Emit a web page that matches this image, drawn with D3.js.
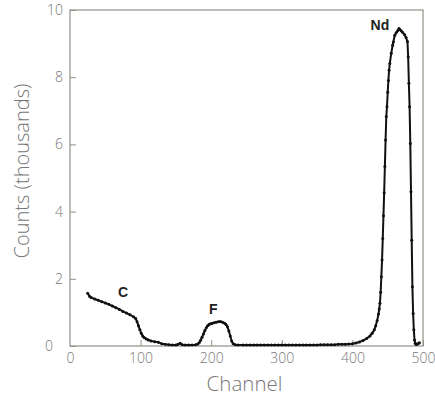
<!DOCTYPE html>
<html lang="en">
<head>
<meta charset="UTF-8">
<title>Channel spectrum</title>
<style>
  body { margin: 0; background: #fff; }
  .tick-label { font-family: "Open Sans", sans-serif; font-weight: 300; fill: #777; font-size: 14px; }
  .axis-title { font-family: "Open Sans", sans-serif; font-weight: 300; fill: #777; font-size: 20.5px; }
  .peak-label { font-family: "Liberation Sans", Arial, sans-serif; font-weight: bold; fill: #222; font-size: 14px; }
</style>
<script src="https://d3js.org/d3.v7.min.js"></script>
</head>
<body>
<div id="chart"></div>
<script>
// spectrum: channel -> counts (thousands)
var channels = [25, 28, 30, 35, 40, 45, 50, 55, 60, 65, 70, 75, 80, 85, 90, 93, 95, 97, 99, 101, 103, 105, 108, 111, 115, 120, 125, 130, 135, 140, 145, 150, 153, 156, 159, 163, 168, 173, 178, 181, 183, 185, 187, 189, 191, 193, 195, 197, 199, 201, 204, 207, 210, 213, 216, 219, 221, 223, 225, 227, 229, 231, 234, 238, 245, 250, 255, 260, 265, 270, 275, 280, 285, 290, 295, 300, 305, 310, 315, 320, 325, 330, 335, 340, 345, 350, 355, 360, 365, 370, 375, 380, 385, 390, 395, 400, 405, 410, 415, 420, 425, 428, 431, 433, 435, 437, 438, 439, 440, 441, 442, 443, 444, 445, 446, 447, 448, 449, 450, 451, 452, 453, 455, 457, 458, 460, 462, 464, 466, 467, 469, 471, 474, 476, 478, 479, 480, 481, 482, 483, 484, 485, 486, 487, 488, 489, 490, 491, 493, 495];
var counts = [1.57, 1.47, 1.44, 1.40, 1.36, 1.32, 1.28, 1.24, 1.19, 1.14, 1.09, 1.03, 0.98, 0.93, 0.87, 0.82, 0.72, 0.60, 0.48, 0.38, 0.30, 0.25, 0.21, 0.18, 0.15, 0.13, 0.11, 0.07, 0.05, 0.04, 0.03, 0.03, 0.05, 0.08, 0.04, 0.03, 0.03, 0.03, 0.04, 0.06, 0.10, 0.17, 0.26, 0.36, 0.46, 0.54, 0.60, 0.64, 0.66, 0.67, 0.69, 0.71, 0.72, 0.73, 0.71, 0.68, 0.64, 0.57, 0.45, 0.30, 0.15, 0.07, 0.04, 0.03, 0.03, 0.03, 0.03, 0.03, 0.03, 0.03, 0.03, 0.03, 0.03, 0.03, 0.03, 0.03, 0.03, 0.03, 0.03, 0.03, 0.03, 0.03, 0.03, 0.03, 0.03, 0.03, 0.04, 0.04, 0.04, 0.04, 0.04, 0.05, 0.05, 0.05, 0.06, 0.07, 0.09, 0.12, 0.16, 0.22, 0.30, 0.38, 0.48, 0.60, 0.75, 0.95, 1.10, 1.27, 1.60, 2.06, 2.56, 3.20, 3.88, 4.56, 5.34, 6.13, 6.83, 7.12, 7.55, 7.90, 8.21, 8.41, 8.71, 8.95, 9.05, 9.25, 9.32, 9.38, 9.45, 9.42, 9.38, 9.34, 9.26, 9.18, 9.06, 8.60, 7.82, 7.12, 6.03, 4.59, 3.15, 1.76, 0.97, 0.48, 0.18, 0.08, 0.05, 0.05, 0.07, 0.10];

var xTicks = [0, 100, 200, 300, 400, 500];
var yTicks = [0, 2, 4, 6, 8, 10];

var peakNames = ["C", "F", "Nd"];
var peakChannels = [75, 203, 439];
var peakCounts = [1.45, 0.95, 9.4];

var width = 435, height = 398;
var margin = { top: 10, right: 12, bottom: 52, left: 70 };

var svg = d3.select("#chart").append("svg")
  .attr("width", width)
  .attr("height", height);

var x = d3.scaleLinear().domain([0, 500]).range([margin.left, width - margin.right]);
var y = d3.scaleLinear().domain([0, 10]).range([height - margin.bottom, margin.top]);

var frameColor = "#8b9587";

// frame
svg.append("rect")
  .attr("x", x(0))
  .attr("y", y(10))
  .attr("width", x(500) - x(0))
  .attr("height", y(0) - y(10))
  .attr("fill", "none")
  .attr("stroke", frameColor)
  .attr("stroke-width", 1.2);

// axes with inward ticks
var xAxis = svg.append("g")
  .attr("transform", "translate(0," + y(0) + ")")
  .call(d3.axisBottom(x).tickValues(xTicks).tickSizeInner(-6).tickSizeOuter(0).tickPadding(7));
xAxis.select(".domain").remove();
xAxis.selectAll("line").attr("stroke", frameColor);
xAxis.selectAll("text").attr("class", "tick-label").attr("font-size", null).attr("font-family", null).attr("fill", null);

var yAxis = svg.append("g")
  .attr("transform", "translate(" + x(0) + ",0)")
  .call(d3.axisLeft(y).tickValues(yTicks).tickSizeInner(-6).tickSizeOuter(0).tickPadding(7));
yAxis.select(".domain").remove();
yAxis.selectAll("line").attr("stroke", frameColor);
yAxis.selectAll("text").attr("class", "tick-label").attr("font-size", null).attr("font-family", null).attr("fill", null);
yAxis.selectAll(".tick").filter(function (d) { return d === 0; }).select("text").attr("dx", "-10");
xAxis.selectAll(".tick").filter(function (d) { return d === 0; }).select("line").remove();

// axis titles
svg.append("text")
  .attr("class", "axis-title")
  .attr("x", (x(0) + x(500)) / 2 - 2)
  .attr("y", 391)
  .attr("text-anchor", "middle")
  .text("Channel");

svg.append("text")
  .attr("class", "axis-title")
  .attr("transform", "translate(29," + 171 + ") rotate(-90)")
  .attr("text-anchor", "middle")
  .style("font-size", "20px")
  .text("Counts (thousands)");

// spectrum
var pts = channels.map(function (c, i) { return [c, counts[i]]; });

svg.append("path")
  .datum(pts)
  .attr("fill", "none")
  .attr("stroke", "#111")
  .attr("stroke-width", 2)
  .attr("stroke-linejoin", "round")
  .attr("d", d3.line().x(function (d) { return x(d[0]); }).y(function (d) { return y(d[1]); }));

svg.append("g").selectAll("circle")
  .data(pts)
  .enter().append("circle")
  .attr("cx", function (d) { return x(d[0]); })
  .attr("cy", function (d) { return y(d[1]); })
  .attr("r", 1.5)
  .attr("fill", "#111");

// peak labels
svg.append("g").selectAll("text")
  .data(peakNames)
  .enter().append("text")
  .attr("class", "peak-label")
  .attr("x", function (d, i) { return x(peakChannels[i]); })
  .attr("y", function (d, i) { return y(peakCounts[i]); })
  .attr("text-anchor", "middle")
  .text(function (d) { return d; });
</script>
</body>
</html>
